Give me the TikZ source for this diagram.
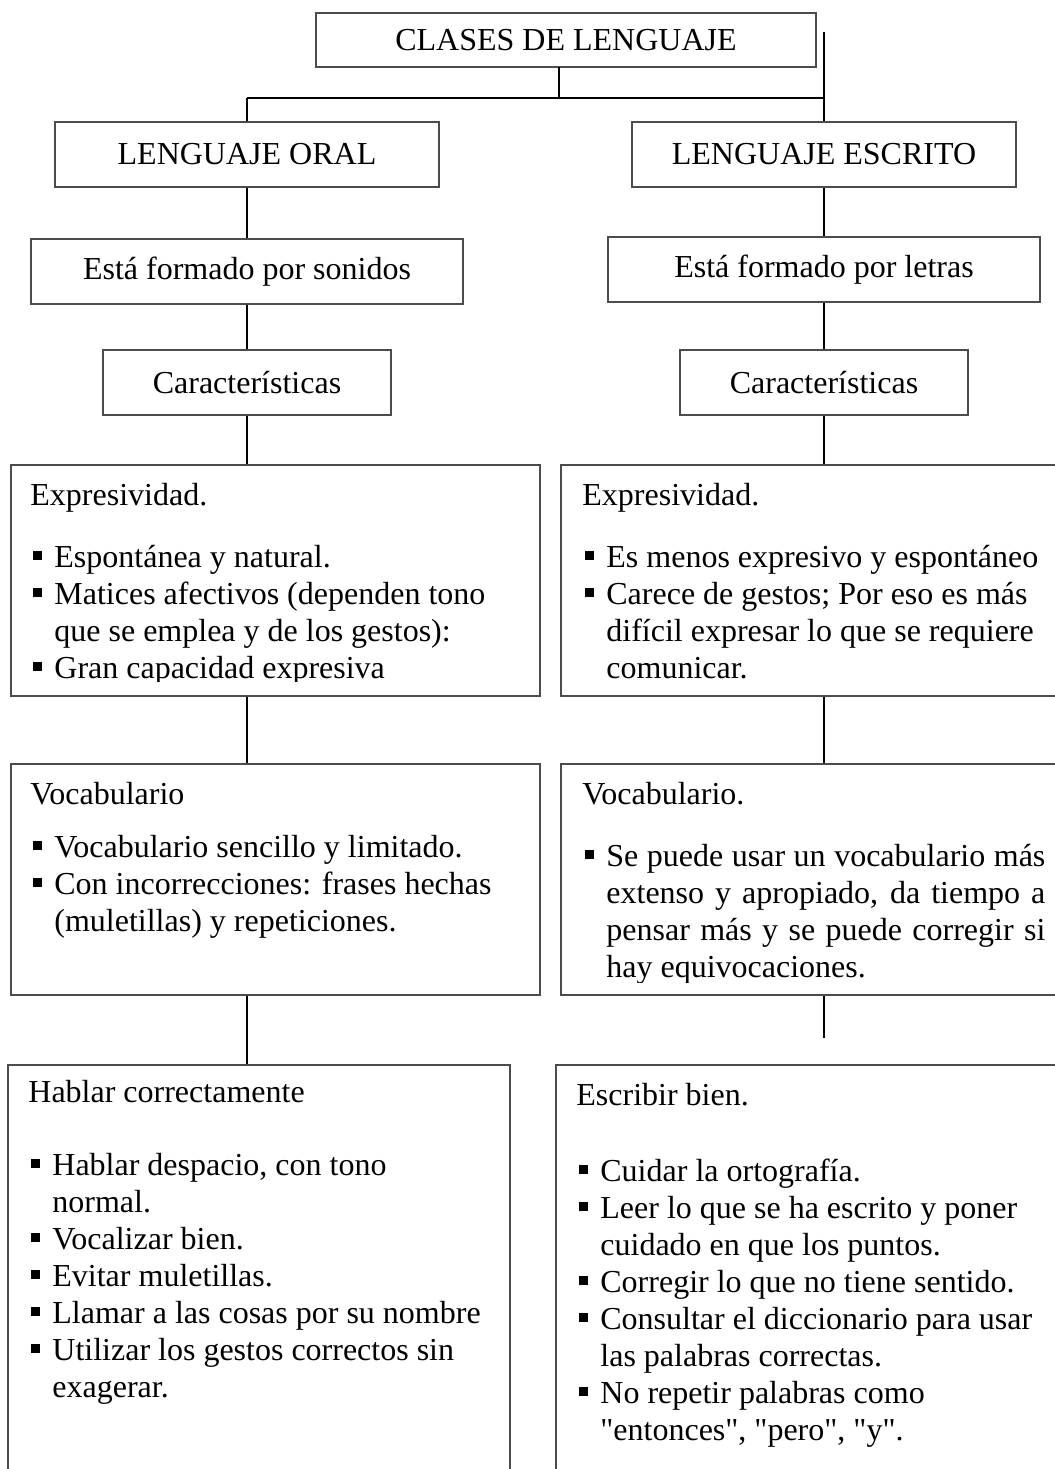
\documentclass[tikz,border=0pt]{standalone}
\usepackage{fontspec}
\setmainfont{Liberation Serif}[Ligatures=TeXOff]
\newcommand\sqb{\raisebox{3.5pt}{\rule{4.5pt}{4.5pt}}}
\newcommand\bl{\par\noindent\makebox[12pt][l]{\hspace*{1.5pt}\sqb}}
\newcommand\cl{\par\noindent\hspace*{12pt}}
\newcommand\fs{\fontsize{16pt}{18.5pt}\selectfont}
\tikzset{
  box/.style={draw=black!70, line width=0.6pt, inner sep=0pt, align=center, font=\fs},
  bigbox/.style={draw=black!70, line width=0.6pt, inner sep=0pt},
  conn/.style={draw=black, line width=0.6pt},
  txt/.style={anchor=base west, inner sep=0pt, font=\fs},
}
\begin{document}
\begin{tikzpicture}[x=0.5pt,y=-0.5pt]
\useasboundingbox (0,0) rectangle (1055,1469);
% heading boxes
\node[box, minimum width=250pt, minimum height=27pt] (top) at (566,40) {CLASES DE LENGUAJE};
\node[box, minimum width=192pt, minimum height=32.5pt] (oral) at (247,154.5) {LENGUAJE ORAL};
\node[box, minimum width=192pt, minimum height=32.5pt] (escrito) at (824,154.5) {LENGUAJE ESCRITO};
\node[box, minimum width=216pt, minimum height=32.5pt] (sonidos) at (247,271.5) {Está formado por sonidos};
\node[box, minimum width=216pt, minimum height=32.5pt] (letras) at (824,269.5) {Está formado por letras};
\node[box, minimum width=144pt, minimum height=32.5pt] (carL) at (247,382.5) {Características};
\node[box, minimum width=144pt, minimum height=32.5pt] (carR) at (824,382.5) {Características};
% content boxes
\node[bigbox, minimum width=264.5pt, minimum height=115.5pt] (exprL) at (275.5,580.5) {};
\node[bigbox, minimum width=250.5pt, minimum height=115.5pt] (exprR) at (811.5,580.5) {};
\node[bigbox, minimum width=264.5pt, minimum height=115.5pt] (vocL) at (275.5,879.5) {};
\node[bigbox, minimum width=250.5pt, minimum height=115.5pt] (vocR) at (811.5,879.5) {};
\node[bigbox, minimum width=251pt, minimum height=210pt] (habL) at (259,1275) {};
\node[bigbox, minimum width=253pt, minimum height=210pt] (escR) at (809,1275) {};
% texts
\begin{scope}
\clip (11,465) rectangle (540,681);
\node[txt] (exprLt) at (30,505) {\parbox[t]{250pt}{\fs\raggedright\noindent Expresividad.\par\vspace{12.5pt}%
\bl Espontánea y natural.
\bl Matices afectivos (dependen tono
\cl que se emplea y de los gestos):
\bl Gran capacidad expresiva}};
\end{scope}
\begin{scope}
\clip (561,465) rectangle (1055,681);
\node[txt] (exprRt) at (582,505) {\parbox[t]{250pt}{\fs\raggedright\noindent Expresividad.\par\vspace{12.5pt}%
\bl Es menos expresivo y espontáneo
\bl Carece de gestos; Por eso es más
\cl difícil expresar lo que se requiere
\cl comunicar.}};
\end{scope}
\begin{scope}
\clip (11,764) rectangle (540,981);
\node[txt] (vocLt) at (30,804) {\parbox[t]{250pt}{\fs\raggedright\noindent Vocabulario\par\vspace{8pt}%
\bl Vocabulario sencillo y limitado.
\bl Con incorrecciones: frases hechas
\cl (muletillas) y repeticiones.}};
\end{scope}
\begin{scope}
\clip (561,764) rectangle (1055,982);
\node[txt] (vocRt) at (582,804) {\parbox[t]{250pt}{\fs\raggedright\noindent Vocabulario.\par\vspace{12.5pt}%
\bl \makebox[219.5pt][s]{Se puede usar un vocabulario más}
\cl \makebox[219.5pt][s]{extenso y apropiado, da tiempo a}
\cl \makebox[219.5pt][s]{pensar más y se puede corregir si}
\cl hay equivocaciones.}};
\end{scope}
\node[txt] (habLt) at (28,1102) {\parbox[t]{250pt}{\fs\raggedright\noindent Hablar correctamente\par\vspace{18pt}%
\bl Hablar despacio, con tono
\cl normal.
\bl Vocalizar bien.
\bl Evitar muletillas.
\bl Llamar a las cosas por su nombre
\bl Utilizar los gestos correctos sin
\cl exagerar.}};
\node[txt] (escRt) at (576,1105) {\parbox[t]{250pt}{\fs\raggedright\noindent Escribir bien.\par\vspace{19.5pt}%
\bl Cuidar la ortografía.
\bl Leer lo que se ha escrito y poner
\cl cuidado en que los puntos.
\bl Corregir lo que no tiene sentido.
\bl Consultar el diccionario para usar
\cl las palabras correctas.
\bl No repetir palabras como
\cl "entonces", "pero", "y".}};
% connectors
\coordinate (stubT) at (559,67);
\coordinate (hj) at (559,98);
\coordinate (rt) at (824,32);
\coordinate (rend) at (824,1038);
\draw[conn] (stubT) -- (hj);
\draw[conn] (oral.north |- hj) -- (rt |- hj);
\draw[conn] (oral.north |- hj) -- (oral.north);
\draw[conn] (rt) -- (escrito.north);
\draw[conn] (oral.south) -- (sonidos.north);
\draw[conn] (sonidos.south) -- (carL.north);
\draw[conn] (carL.south) -- (carL.south |- exprL.north);
\draw[conn] (carL.south |- exprL.south) -- (carL.south |- vocL.north);
\draw[conn] (carL.south |- vocL.south) -- (carL.south |- habL.north);
\draw[conn] (escrito.south) -- (letras.north);
\draw[conn] (letras.south) -- (carR.north);
\draw[conn] (carR.south) -- (carR.south |- exprR.north);
\draw[conn] (carR.south |- exprR.south) -- (carR.south |- vocR.north);
\draw[conn] (carR.south |- vocR.south) -- (rend);
\end{tikzpicture}
\end{document}
